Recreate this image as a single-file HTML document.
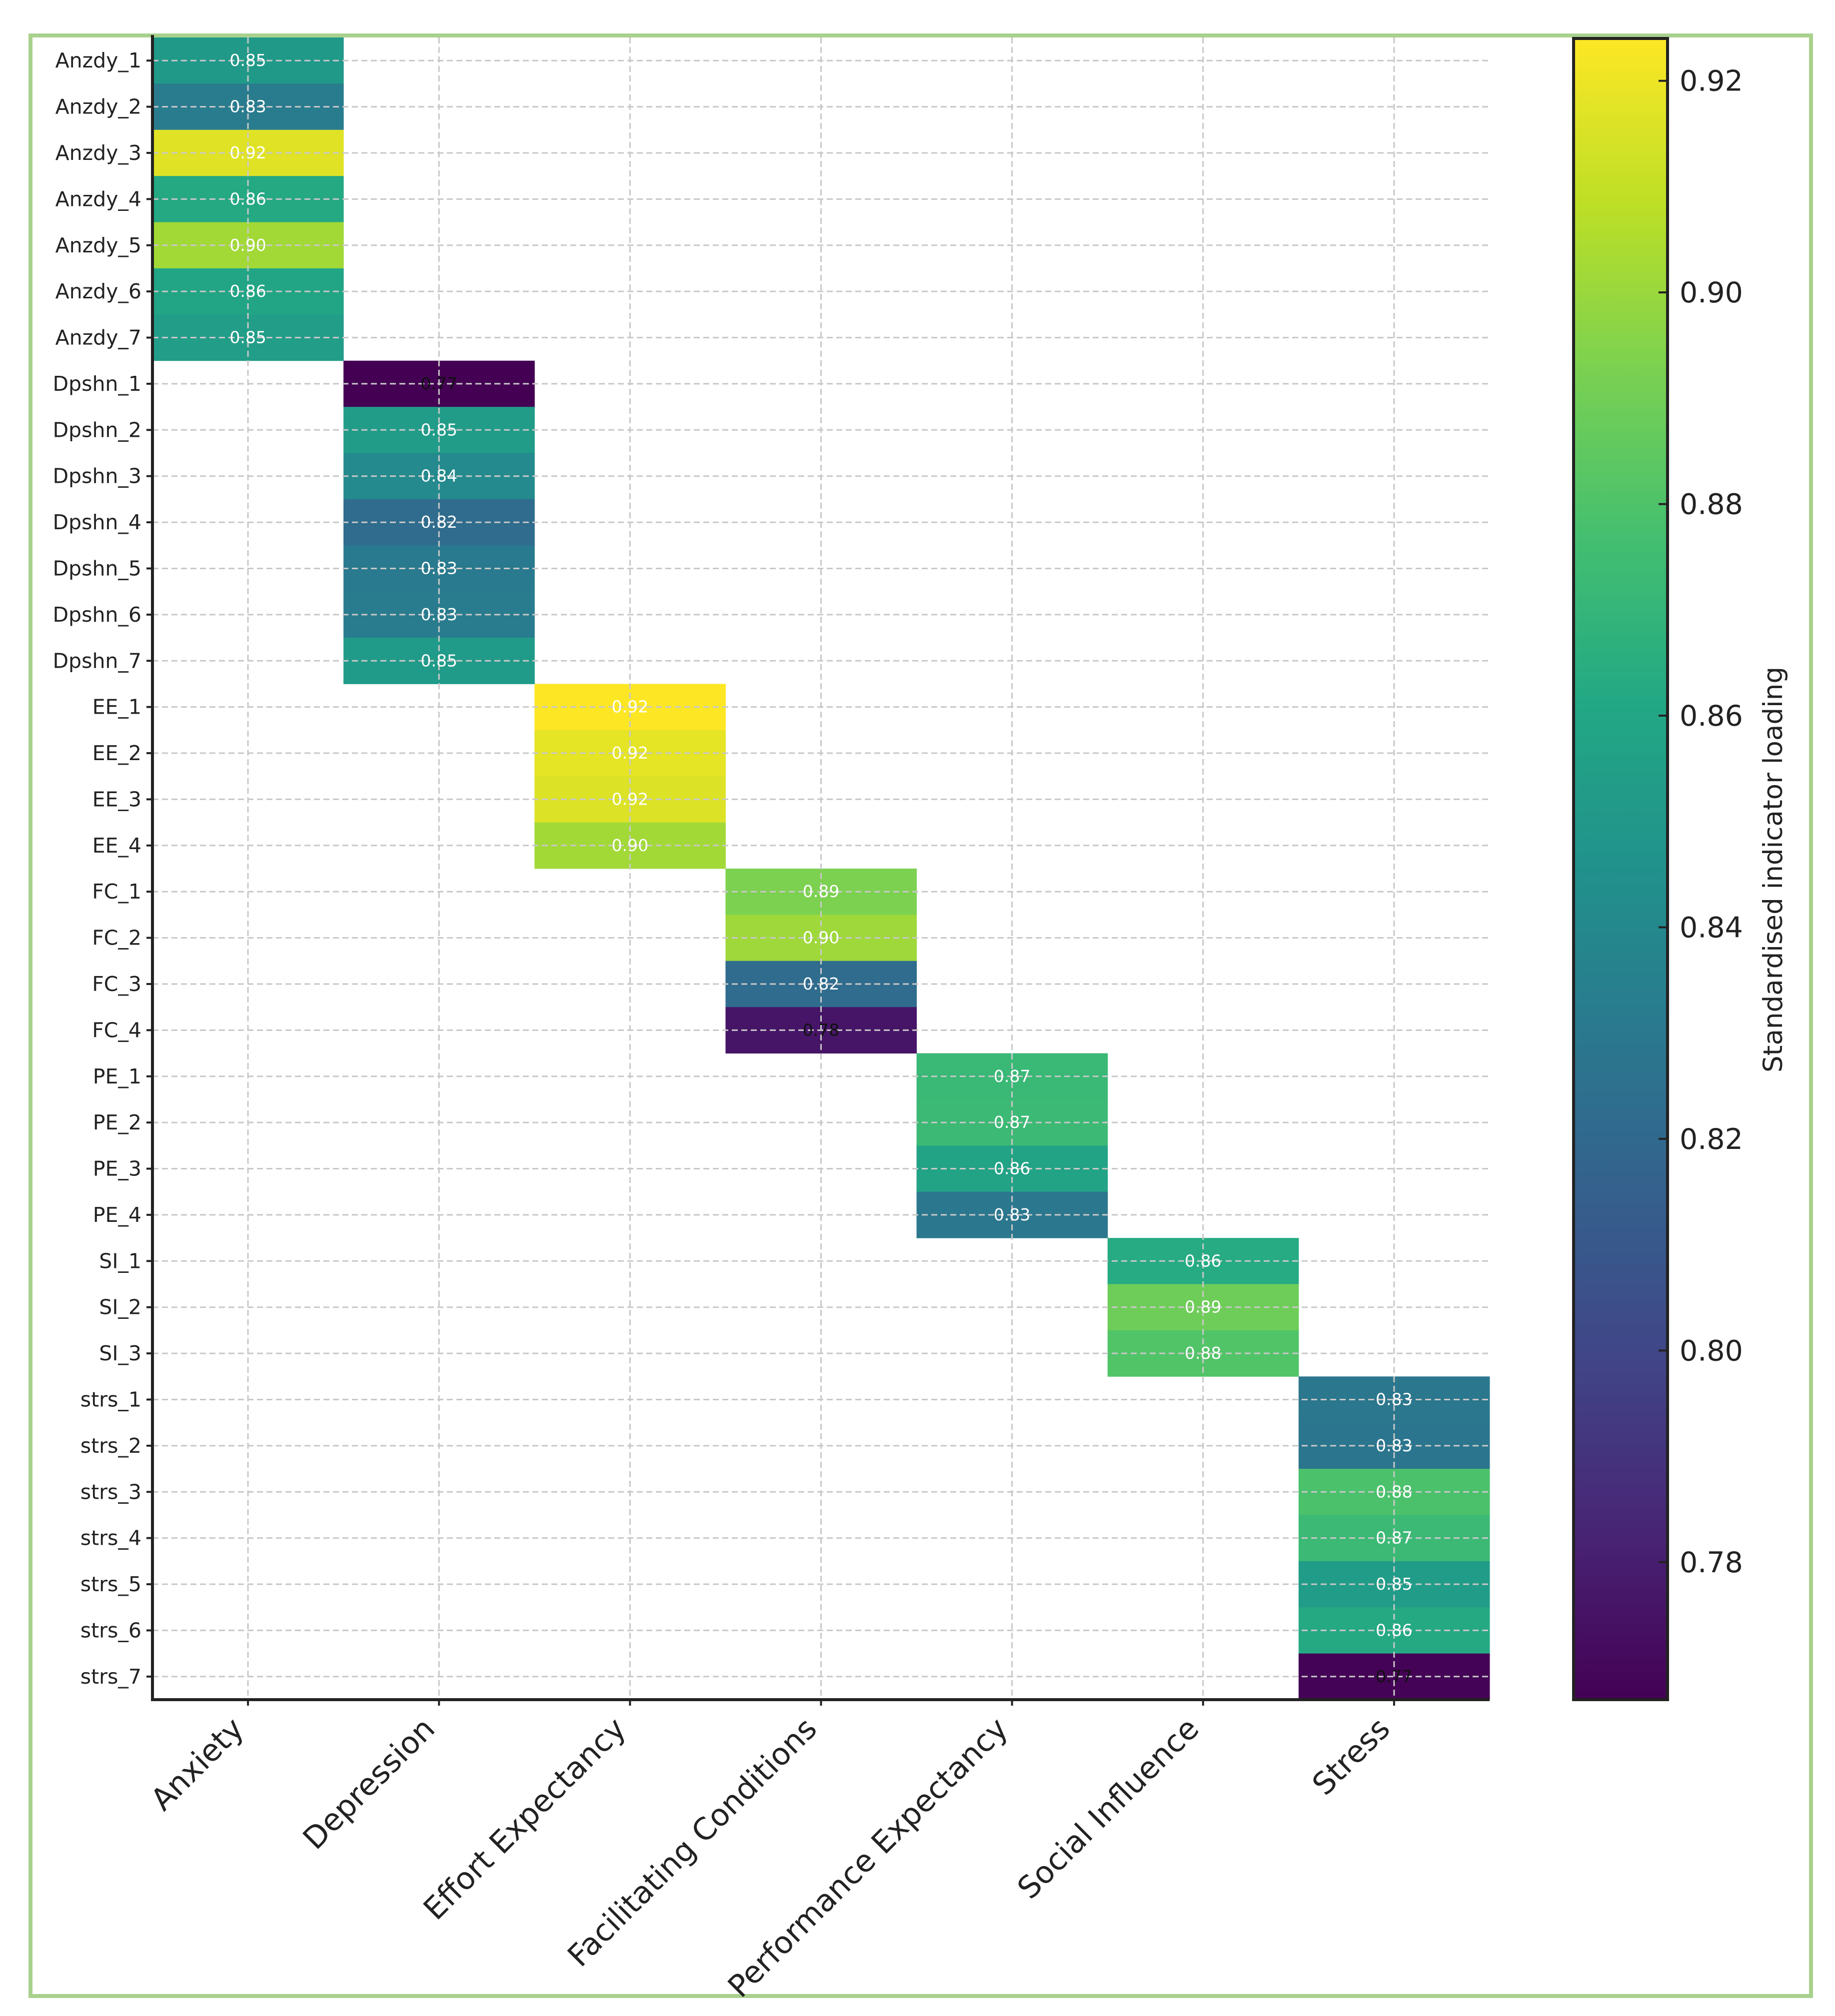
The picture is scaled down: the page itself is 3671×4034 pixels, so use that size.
<!DOCTYPE html>
<html><head><meta charset="utf-8">
<style>
html,body{margin:0;padding:0;background:#fff;}
svg{display:block;}
text{font-family:"DejaVu Sans","Liberation Sans",sans-serif;}
</style></head>
<body>
<svg id="chart" xmlns="http://www.w3.org/2000/svg" width="3671" height="4034" viewBox="0 0 3671 4034">
<defs><linearGradient id="cbgrad" x1="0" y1="1" x2="0" y2="0"></linearGradient></defs>
<rect x="61" y="71" width="3562" height="3923" fill="#fff" stroke="#a9d18e" stroke-width="8"/>
<g id="cells"></g>
<g id="grid"></g>
<g id="labels"></g>
<g id="axes"></g>
<g id="colorbar"></g>
</svg>
<script>
const rowLabels = ["Anzdy_1","Anzdy_2","Anzdy_3","Anzdy_4","Anzdy_5","Anzdy_6","Anzdy_7",
"Dpshn_1","Dpshn_2","Dpshn_3","Dpshn_4","Dpshn_5","Dpshn_6","Dpshn_7",
"EE_1","EE_2","EE_3","EE_4","FC_1","FC_2","FC_3","FC_4",
"PE_1","PE_2","PE_3","PE_4","SI_1","SI_2","SI_3",
"strs_1","strs_2","strs_3","strs_4","strs_5","strs_6","strs_7"];
const columns = ["Anxiety","Depression","Effort Expectancy","Facilitating Conditions","Performance Expectancy","Social Influence","Stress"];
const rowColumn = [0,0,0,0,0,0,0, 1,1,1,1,1,1,1, 2,2,2,2, 3,3,3,3, 4,4,4,4, 5,5,5, 6,6,6,6,6,6,6];
const loadings = [0.851,0.832,0.917,0.862,0.902,0.859,0.854,
0.767,0.853,0.841,0.822,0.831,0.832,0.852,
0.924,0.918,0.916,0.902, 0.893,0.901,0.822,0.776,
0.872,0.873,0.858,0.829, 0.863,0.889,0.881,
0.829,0.828,0.879,0.873,0.853,0.862,0.768];
const printed = ["0.85","0.83","0.92","0.86","0.90","0.86","0.85",
"0.77","0.85","0.84","0.82","0.83","0.83","0.85",
"0.92","0.92","0.92","0.90","0.89","0.90","0.82","0.78",
"0.87","0.87","0.86","0.83","0.86","0.89","0.88",
"0.83","0.83","0.88","0.87","0.85","0.86","0.77"];
const cbTicks = [0.78,0.80,0.82,0.84,0.86,0.88,0.90,0.92];
const vmin = 0.767, vmax = 0.924;

const NS="http://www.w3.org/2000/svg";
const L=305, R=2980, T=75, B=3401;
const rowH=(B-T)/rowLabels.length, colW=(R-L)/columns.length;
const xc = i => L + (i+0.5)*colW;
const yr = i => T + i*rowH;
const vir=[[68,1,84],[72,36,117],[65,68,135],[53,95,141],[42,120,142],[33,145,140],[34,168,132],[68,191,112],[122,209,81],[189,223,38],[253,231,37]];
function cmap(v){let t=Math.max(0,Math.min(1,(v-vmin)/(vmax-vmin)))*10;let i=Math.min(9,Math.floor(t)),f=t-i;
const a=vir[i],b=vir[i+1];return "rgb("+a.map((c,k)=>Math.round(c+(b[k]-c)*f)).join(",")+")";}
function mk(tag,attrs,parent){const e=document.createElementNS(NS,tag);for(const k in attrs)e.setAttribute(k,attrs[k]);parent.appendChild(e);return e;}
const gC=document.getElementById('cells'),gG=document.getElementById('grid'),gL=document.getElementById('labels'),gA=document.getElementById('axes'),gB=document.getElementById('colorbar');

loadings.forEach((v,i)=>{
  const c=rowColumn[i];
  const r=mk('rect',{x:L+c*colW,y:yr(i),width:colW+0.5,height:rowH+0.5,fill:cmap(v)},gC);
  
  
});
rowLabels.forEach((lab,i)=>{
  const y=yr(i)+rowH/2;
  const g=mk('line',{x1:L,x2:R,y1:y,y2:y,stroke:'#c8c8c8','stroke-width':3,'stroke-dasharray':'12,7'},gG);
  
  
  const tk=mk('line',{x1:L-12,x2:L,y1:y,y2:y,stroke:'#222','stroke-width':4},gA);
  
  
  const t=mk('text',{x:L-22,y:y+14,'text-anchor':'end','font-size':41,fill:'#222'},gL);
  t.textContent=lab;
  
  
});
columns.forEach((c,i)=>{
  const x=xc(i);
  const g=mk('line',{x1:x,x2:x,y1:T,y2:B,stroke:'#c8c8c8','stroke-width':3,'stroke-dasharray':'12,7'},gG);
  
  
  const tk=mk('line',{x1:x,x2:x,y1:B,y2:B+12,stroke:'#222','stroke-width':4},gA);
  
  
  const ax=x-5, ay=B+62;
  const t=mk('text',{x:ax,y:ay,'text-anchor':'end','font-size':61,fill:'#222',transform:'rotate(-45 '+ax+' '+ay+')'},gL);
  t.textContent=c;
  
  
});
loadings.forEach((v,i)=>{
  const c=rowColumn[i];
  const t=mk('text',{x:xc(c),y:yr(i)+rowH/2+11,'text-anchor':'middle','font-size':33,fill:(v<0.79?'#111':'#fff')},gL);
  t.textContent=printed[i];
  
  
});
const sp=mk('path',{d:'M'+L+' '+(T-5)+' V'+B+' H'+R,fill:'none',stroke:'#222','stroke-width':6},gA);



// colorbar
const CL=3148, CR=3336, CT=77, CB=3401;
const grad=document.getElementById('cbgrad');
vir.forEach((c,i)=>{mk('stop',{offset:(i*10)+'%','stop-color':'rgb('+c.join(',')+')'},grad);});
const cb=mk('rect',{x:CL,y:CT,width:CR-CL,height:CB-CT,fill:'url(#cbgrad)',stroke:'#222','stroke-width':6},gB);


const cy=v=>CB-(v-vmin)/(vmax-vmin)*(CB-CT);
cbTicks.forEach(v=>{
  const y=cy(v);
  const tk=mk('line',{x1:CR-18,x2:CR,y1:y,y2:y,stroke:'#222','stroke-width':4},gB);
  
  
  const t=mk('text',{x:CR+24,y:y+20,'font-size':57,fill:'#222'},gB);
  t.textContent=v.toFixed(2);
  
  
});
const ct=mk('text',{x:3565,y:1740,'text-anchor':'middle','font-size':53,fill:'#222',transform:'rotate(-90 3565 1740)'},gB);
ct.textContent='Standardised indicator loading';


</script>
</body></html>
